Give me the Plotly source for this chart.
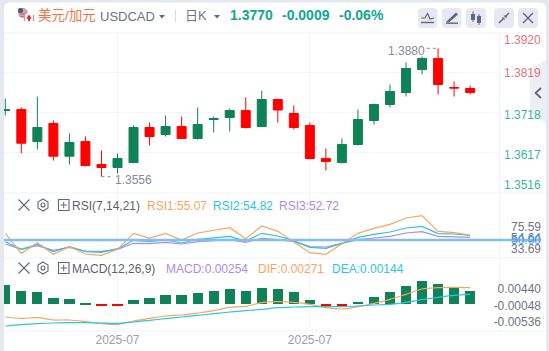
import plotly.graph_objects as go

W, H = 549, 351
FONT = "Liberation Sans, Noto Sans CJK SC, sans-serif"

# ---------- data ----------
opens = [1.37230,1.37256,1.36448,1.36902,1.36077,1.36448,1.35867,1.35791,1.35917,1.36801,
         1.36624,1.36826,1.36523,1.37003,1.37054,1.37230,1.36826,1.37508,1.37155,1.36852,
         1.36018,1.35917,1.36372,1.36978,1.37382,1.37685,1.38266,1.38544,1.37811,1.37786]
highs = [1.37533,1.37306,1.37584,1.36978,1.36650,1.36574,1.36220,1.36145,1.36852,1.36927,
         1.37104,1.37079,1.37306,1.37079,1.37281,1.37559,1.37735,1.37533,1.37357,1.36927,
         1.36271,1.36523,1.37256,1.37407,1.37887,1.38443,1.38594,1.38800,1.37963,1.37862]
lows = [1.37104,1.36152,1.36246,1.35968,1.35867,1.35816,1.35560,1.35640,1.35917,1.36347,
        1.36574,1.36523,1.36498,1.36675,1.36700,1.36776,1.36826,1.36927,1.36751,1.35993,
        1.35715,1.35892,1.36347,1.36877,1.37306,1.37584,1.38140,1.37634,1.37584,1.37634]
closes = [1.37248,1.36405,1.36801,1.36077,1.36422,1.35842,1.35791,1.36018,1.36801,1.36574,
          1.36826,1.36523,1.36877,1.37028,1.37230,1.36801,1.37508,1.37243,1.36801,1.36018,
          1.35943,1.36372,1.37003,1.37382,1.37710,1.38291,1.38544,1.37887,1.37798,1.37685]
rsi1 = [62.7,24.6,44.9,22.7,37.3,23.3,20.8,32.2,62.7,53.8,62.7,50.0,63.3,67.8,73.5,52.5,76.7,66.5,
        46.8,25.9,22.7,42.4,62.7,72.2,79.8,91.9,96.4,66.5,64.0,59.5]
rsi2 = [46.8,32.2,41.7,27.8,37.3,27.8,26.5,33.5,49.4,46.8,50.0,44.3,51.3,54.4,57.0,48.1,62.7,57.6,
        48.7,36.0,34.1,43.7,55.1,60.8,65.2,72.9,76.0,62.1,61.4,58.9]
rsi3 = [42.4,32.2,39.2,30.3,36.0,29.0,28.4,32.2,43.7,43.0,45.6,42.4,46.8,49.4,50.6,45.6,53.2,50.6,
        46.8,37.3,36.7,43.7,50.6,53.8,57.0,63.3,65.9,57.0,55.7,55.1]
macd_bar = [0.00559,0.00382,0.00353,0.00176,0.00147,0.00020,-0.00040,-0.00040,0.00118,0.00176,
            0.00265,0.00265,0.00323,0.00382,0.00441,0.00382,0.00470,0.00441,0.00353,0.00118,
            -0.00040,-0.00040,0.00059,0.00206,0.00353,0.00529,0.00676,0.00588,0.00500,0.00382]
dif = [-0.00382,-0.00421,-0.00402,-0.00470,-0.00470,-0.00519,-0.00578,-0.00598,-0.00500,-0.00421,
       -0.00353,-0.00323,-0.00265,-0.00196,-0.00098,-0.00069,0.00039,0.00069,0.00049,-0.00010,
       -0.00108,-0.00147,-0.00078,0.00020,0.00137,0.00284,0.00441,0.00480,0.00490,0.00480]
dea = [-0.00647,-0.00608,-0.00578,-0.00559,-0.00549,-0.00549,-0.00559,-0.00568,-0.00529,-0.00480,
       -0.00431,-0.00382,-0.00333,-0.00284,-0.00235,-0.00196,-0.00157,-0.00108,-0.00088,-0.00078,
       -0.00078,-0.00078,-0.00059,-0.00029,-0.00010,0.00049,0.00127,0.00196,0.00255,0.00284]
x_ticks = [7, 19]
x_labels = ["2025-07", "2025-07"]
price_ticks = [1.3920, 1.3819, 1.3718, 1.3617, 1.3516]
rsi_ticks = [75.59, 54.64, 33.69]
macd_ticks = [0.00440, -0.00048, -0.00536]
x = list(range(len(opens)))

# ---------- colours ----------
GREEN, RED = "#108257", "#ff0000"
ORANGE, CYAN, PURPLE = "#f7a55f", "#2cc5de", "#a98ce8"
GRID = "#f3f5f9"
TEXT = "#70747f"
ICON = "#62667a"


def X(p): return p / W
def Y(p): return 1 - p / H


def path(pts, close=False):
    s = "M" + " L".join(f"{X(a):.5f},{Y(b):.5f}" for a, b in pts)
    return s + (" Z" if close else "")


def rrect(x0, y0, x1, y1, r):
    q = lambda a, b: f"{X(a):.5f},{Y(b):.5f}"
    return (f"M{q(x0+r,y0)} L{q(x1-r,y0)} Q{q(x1,y0)} {q(x1,y0+r)} L{q(x1,y1-r)} Q{q(x1,y1)} {q(x1-r,y1)} "
            f"L{q(x0+r,y1)} Q{q(x0,y1)} {q(x0,y1-r)} L{q(x0,y0+r)} Q{q(x0,y0)} {q(x0+r,y0)} Z")


shapes, anns = [], []


def fill(p, color, layer="below"):
    shapes.append(dict(type="path", path=p, xref="paper", yref="paper", fillcolor=color,
                       line=dict(width=0), layer=layer))


def stroke(pts, color=ICON, w=1.2, close=False, layer="above", dash=None):
    shapes.append(dict(type="path", path=path(pts, close), xref="paper", yref="paper",
                       line=dict(color=color, width=w, dash=dash or "solid"), layer=layer))


def label(px, py, text, color=TEXT, size=12, anchor="left", bold=False):
    anns.append(dict(x=X(px), y=Y(py), xref="paper", yref="paper", text=f"<b>{text}</b>" if bold else text,
                     showarrow=False, xanchor=anchor, yanchor="middle", xshift=0, align=anchor,
                     font=dict(family=FONT, size=size, color=color), borderpad=0, borderwidth=0))


# card
fill(rrect(4, 2.5, 546, 400, 6), "#ffffff")
# panel separators and scale divider
for yy in (33, 193, 258, 331):
    stroke([(4, yy), (546, yy)], "#f1f3f7", 1, layer="below")
stroke([(499.5, 33), (499.5, 331)], "#f1f3f7", 1, layer="below")

# header icons: flag
shapes.append(dict(type="circle", xref="paper", yref="paper", x0=X(18), x1=X(28), y0=Y(18), y1=Y(8),
                   fillcolor="#c9a6b4", line=dict(width=0), layer="above"))
fill(rrect(18, 8, 23, 13, 2), "#4a5a8c", "above")
for yy in (14, 16.5):
    stroke([(20, yy), (27, yy)], "#e8646e", 1.2)
shapes.append(dict(type="circle", xref="paper", yref="paper", x0=X(24), x1=X(34), y0=Y(23), y1=Y(13),
                   fillcolor="#ffffff", line=dict(width=0), layer="above"))
fill(path([(29, 14.5), (31.7, 18.5), (30, 18.7), (30, 21), (28, 21), (28, 18.7), (26.3, 18.5)], True), "#e5232a", "above")
stroke([(24.5, 15), (24.5, 21)], "#e58b90", 1.3)
stroke([(33.5, 15), (33.5, 21)], "#e58b90", 1.3)

# dropdown triangles
for cx in (162, 217):
    fill(path([(cx - 3, 15), (cx + 3, 15), (cx, 18.5)], True), ICON, "above")
stroke([(175.5, 10), (175.5, 22)], "#d5d8e0", 1)

# toolbar buttons
for x0, x1 in ((418, 437.5), (442, 461.5), (466, 486), (494, 514), (518, 538)):
    fill(rrect(x0, 8, x1, 28, 4), "#e6e9f1", "above")
stroke([(421, 22.5), (434, 22.5)], ICON, 1.4)
stroke([(421, 18), (425, 18), (427.5, 13.5), (430, 19), (434, 18)], ICON, 1.2)
fill(path([(446, 22), (456, 12.5), (458, 14.5), (449, 22.5)], True), ICON, "above")
stroke([(446, 23.2), (458, 23.2)], ICON, 1.4)
for cx, top, bot, lo, hi in ((473, 14, 20, 11.5, 22), (479, 16, 23, 14, 25)):
    fill(rrect(cx - 2, top, cx + 2, bot, 0.5), ICON, "above")
    stroke([(cx, lo), (cx, hi)], ICON, 1)
stroke([(499, 23), (503, 19)], ICON, 1.5)
stroke([(505, 17), (509, 13)], ICON, 1.5)
fill(path([(501.5, 17.5), (504.5, 20.5), (504.5, 17.5)], True), ICON, "above")
fill(path([(503.5, 15.5), (506.5, 18.5), (506.5, 15.5)], True), ICON, "above")
stroke([(523, 13), (533, 23)], ICON, 1.2)
stroke([(533, 13), (523, 23)], ICON, 1.2)

# indicator header icons
for yy in (205, 268):
    stroke([(18.5, yy - 5.5), (29.5, yy + 5.5)], ICON, 1.1)
    stroke([(29.5, yy - 5.5), (18.5, yy + 5.5)], ICON, 1.1)
    stroke([(43, yy - 6), (48, yy - 3), (48, yy + 3), (43, yy + 6), (38, yy + 3), (38, yy - 3)], ICON, 1.1, True)
    shapes.append(dict(type="circle", xref="paper", yref="paper", x0=X(41), x1=X(45), y0=Y(yy + 2), y1=Y(yy - 2),
                       line=dict(color=ICON, width=1.1), layer="above"))
    stroke([(58.5, yy - 5.5), (69, yy - 5.5), (69, yy + 5.5), (58.5, yy + 5.5)], ICON, 1.1, True)
    stroke([(60.5, yy), (67, yy)], ICON, 1)
    stroke([(63.7, yy - 3.3), (63.7, yy + 3.3)], ICON, 1)

# side collapse tab
fill(path([(546, 60), (530, 69), (530, 113), (546, 123)], True), "#eeeff4", "above")
stroke([(541, 88), (535.5, 93), (541, 98)], ICON, 1.7)

# RSI reference line
shapes.append(dict(type="line", xref="paper", yref="y2", x0=X(4), x1=X(540), y0=50, y1=50,
                   line=dict(color="#83bdf3", width=2.4), layer="above"))

# extreme markers
shapes.append(dict(type="line", xref="x", yref="y", x0=26.3, x1=27, y0=highs[27], y1=highs[27],
                   line=dict(color="#8a8e9b", width=1, dash="dot"), layer="above"))
shapes.append(dict(type="line", xref="x", yref="y", x0=6, x1=6.7, y0=lows[6], y1=lows[6],
                   line=dict(color="#8a8e9b", width=1, dash="dot"), layer="above"))

# header texts
label(38, 15.5, "美元/加元", "#f3724a", 13.5)
label(100, 17, "USDCAD", TEXT, 13)
label(185, 15.5, "日K", TEXT, 13)
label(230, 15.5, "1.3770", "#10a78c", 14, bold=True)
label(282, 15.5, "-0.0009", "#10a78c", 14, bold=True)
label(339, 15.5, "-0.06%", "#10a78c", 14, bold=True)

label(72, 205.5, "RSI(7,14,21)", "#5b5f6b", 12)
label(147, 205.5, "RSI1:55.07", ORANGE, 12)
label(213, 205.5, "RSI2:54.82", CYAN, 12)
label(279, 205.5, "RSI3:52.72", PURPLE, 12)
label(72, 268.5, "MACD(12,26,9)", "#5b5f6b", 12)
label(166, 268.5, "MACD:0.00254", PURPLE, 12)
label(258, 268.5, "DIF:0.00271", ORANGE, 12)
label(332, 268.5, "DEA:0.00144", CYAN, 12)

label(388, 50.5, f"{highs[27]:.4f}", "#868a98", 12)
label(115, 179.5, f"{lows[6]:.4f}", "#868a98", 12)

# price scale labels
for val, py, col in zip(price_ticks, (40, 73, 114.5, 154.5, 184.5),
                        ("#e2737d", "#e2737d", "#35b79e", "#35b79e", "#35b79e")):
    label(541, py, f"{val:.4f}", col, 12, "right")
label(541, 240, "50.00", "#3f9bea", 12, "right")

# ---------- traces ----------
fig = go.Figure()
fig.add_trace(go.Candlestick(x=x, open=opens, high=highs, low=lows, close=closes, whiskerwidth=0,
                             increasing=dict(line=dict(color=GREEN, width=1), fillcolor=GREEN),
                             decreasing=dict(line=dict(color=RED, width=1), fillcolor=RED),
                             xaxis="x", yaxis="y", showlegend=False))
for name, vals, col in (("RSI3", rsi3, PURPLE), ("RSI2", rsi2, CYAN), ("RSI1", rsi1, ORANGE)):
    fig.add_trace(go.Scatter(x=x, y=vals, mode="lines", name=name, line=dict(color=col, width=1.2),
                             xaxis="x2", yaxis="y2", showlegend=False))
fig.add_trace(go.Bar(x=x, y=macd_bar, width=0.64, marker=dict(color=[GREEN if v >= 0 else RED for v in macd_bar], line=dict(width=0)),
                     xaxis="x3", yaxis="y3", showlegend=False))
fig.add_trace(go.Scatter(x=x, y=dif, mode="lines", line=dict(color=ORANGE, width=1.2, shape="spline"), xaxis="x3", yaxis="y3", showlegend=False))
fig.add_trace(go.Scatter(x=x, y=dea, mode="lines", line=dict(color=CYAN, width=1.2, shape="spline"), xaxis="x3", yaxis="y3", showlegend=False))

xbase = dict(domain=[X(4), X(499)], range=[-0.081, 30.8], showgrid=True, gridcolor=GRID, gridwidth=1,
             tickmode="array", tickvals=x_ticks, zeroline=False, showline=False, ticks="",
             rangeslider=dict(visible=False))
axis_font = dict(family=FONT, size=12, color=TEXT)
fig.update_layout(
    width=W, height=H, autosize=False, margin=dict(l=0, r=0, t=0, b=0),
    paper_bgcolor="#e4e8ef", plot_bgcolor="rgba(0,0,0,0)",
    font=dict(family=FONT), showlegend=False, bargap=0, boxgap=0.2,
    xaxis=dict(**xbase, anchor="y", showticklabels=False),
    xaxis2=dict(**xbase, anchor="y2", showticklabels=False),
    xaxis3=dict(**xbase, anchor="y3", showticklabels=True, ticktext=x_labels,
                tickfont=dict(family=FONT, size=12, color="#9a9eac")),
    yaxis=dict(domain=[Y(192.5), Y(32.5)], range=[1.3516, 1.3920], tickmode="array", tickvals=price_ticks,
               showticklabels=False, showgrid=True, gridcolor=GRID, zeroline=False, anchor="x"),
    yaxis2=dict(domain=[Y(257.7), Y(193)], range=[16.3, 139.5], tickmode="array", tickvals=rsi_ticks,
                ticktext=[f"{v:.2f}" for v in rsi_ticks], tickfont=axis_font, showgrid=False, zeroline=False,
                anchor="free", position=X(541), side="left", ticks=""),
    yaxis3=dict(domain=[Y(331), Y(257.7)], range=[-0.00794, 0.01362], tickmode="array", tickvals=macd_ticks,
                ticktext=[f"{v:.5f}" for v in macd_ticks], tickfont=axis_font, showgrid=False, zeroline=False,
                anchor="free", position=X(541), side="left", ticks=""),
    shapes=shapes, annotations=anns,
)
fig.write_html("out.html", config=dict(displayModeBar=False),
               post_script='document.body.style.margin="0";document.body.style.overflow="hidden";')
